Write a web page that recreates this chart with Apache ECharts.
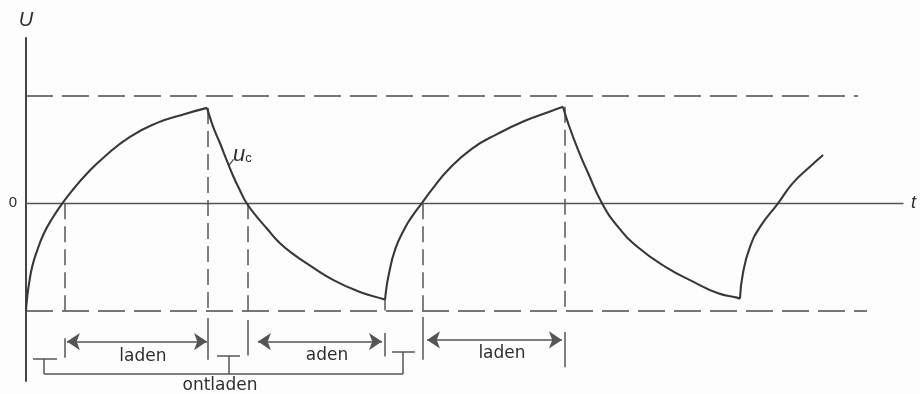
<!DOCTYPE html>
<html><head><meta charset="utf-8">
<script src="https://cdn.jsdelivr.net/npm/echarts@6/dist/echarts.min.js"></script>
<style>html,body{margin:0;padding:0;background:#fdfdfd}#c{width:920px;height:394px}</style>
</head><body><div id="c"></div>
<script>
// t in arbitrary time units, U relative to the source voltage (+1 / -1 = dashed limits)
const laden1 = [[0.0,-1.0],[0.07,-0.87],[0.17,-0.75],[0.35,-0.59],[0.63,-0.44],[1.01,-0.28],[1.48,-0.14],[2.04,0],[2.70,0.14],[3.44,0.28],[4.38,0.43],[5.84,0.62],[7.36,0.75],[8.65,0.82],[10.17,0.89]];
const ontladen1 = [[10.17,0.89],[10.52,0.71],[10.90,0.56],[11.28,0.40],[11.65,0.25],[12.02,0.12],[12.40,0],[12.96,-0.125],[13.52,-0.233],[14.27,-0.373],[15.21,-0.498],[15.77,-0.56],[17.25,-0.715],[18.76,-0.827],[20.06,-0.893],[20.17,-0.90]];
const laden2 = [[20.17,-0.90],[20.24,-0.80],[20.35,-0.69],[20.73,-0.435],[21.29,-0.23],[21.74,-0.11],[22.23,0],[22.81,0.13],[23.71,0.31],[25.06,0.51],[26.52,0.65],[28.03,0.77],[29.33,0.85],[30.17,0.90]];
const ontladen2 = [[30.17,0.90],[30.45,0.75],[31.01,0.50],[31.57,0.285],[32.36,0],[33.26,-0.22],[34.38,-0.41],[35.90,-0.59],[37.58,-0.74],[38.88,-0.84],[39.94,-0.88],[40.11,-0.89]];
const laden3 = [[40.11,-0.89],[40.28,-0.65],[40.67,-0.41],[41.24,-0.22],[42.25,0],[43.09,0.19],[44.04,0.34],[44.78,0.45]];

const limits = [[[0,1],[46.74,1]],[[0,-1],[47.25,-1]]];
const guides = [
  [[2.2,0],[2.2,-1]],
  [[10.2,0.89],[10.2,-1]],
  [[12.44,0],[12.44,-1]],
  [[22.3,0],[22.3,-1]],
  [[30.28,0.90],[30.28,-1]]
];
const ticks = [
  [[2.2,-1.26],[2.2,-1.44]],
  [[10.2,-1.07],[10.2,-1.46]],
  [[12.44,-1.09],[12.44,-1.42]],
  [[20.17,-0.90],[20.17,-1.0]],
  [[20.17,-1.21],[20.17,-1.43]],
  [[22.3,-1.06],[22.3,-1.46]],
  [[30.28,-1.20],[30.28,-1.53]]
];
const arrows = [
  [[2.3,-1.29],[10.17,-1.29]],
  [[13.03,-1.29],[20.0,-1.29]],
  [[22.53,-1.275],[30.11,-1.275]]
];
const bracket = [
  [[0.39,-1.452],[1.74,-1.452]],
  [[1.01,-1.452],[1.01,-1.592]],
  [[1.01,-1.592],[21.18,-1.592]],
  [[10.73,-1.424],[12.02,-1.424]],
  [[11.40,-1.424],[11.40,-1.592]],
  [[20.56,-1.387],[21.85,-1.387]],
  [[21.18,-1.387],[21.18,-1.592]]
];
const leader = [[[11.38,0.35],[11.66,0.41]]];
const labelTexts = ['laden','aden','laden','ontladen'];
const labelPos = [[6.57,-1.43],[16.91,-1.42],[26.74,-1.40],[10.9,-1.70]];
const zeroLabel = ['0'];
const zeroPos = [[-0.73,0]];
const ucPos = [[12.15,0.45]];

const INK = '#2f2f2f';
const curveStyle = {color:'#383838', width:2.1};
function curve(d){
  return {type:'line', data:d, smooth:0.5, showSymbol:false, symbol:'none', lineStyle:curveStyle, silent:true, z:5};
}
function segs(arr, style, extra){
  return Object.assign({type:'lines', coordinateSystem:'cartesian2d', data:arr.map(c=>({coords:c})),
    lineStyle:Object.assign({opacity:1, curveness:0}, style), symbol:'none', silent:true, clip:false}, extra||{});
}
function texts(pos, names, label){
  return {type:'scatter', clip:false, silent:true, symbolSize:0, itemStyle:{opacity:1},
    data:pos.map((p,i)=>({name:names[i], value:p})),
    label:Object.assign({show:true, position:'inside', formatter:'{b}', color:INK, opacity:1}, label)};
}
const chart = echarts.init(document.getElementById('c'), null, {renderer:'canvas'});
chart.setOption({
  backgroundColor:'#fdfdfd',
  animation:false,
  grid:{left:26, right:17, top:38, bottom:13, containLabel:false, outerBoundsMode:'none'},
  xAxis:{type:'value', min:0, max:49.27, name:'t', nameLocation:'end', nameGap:8,
    nameTextStyle:{fontStyle:'italic', fontSize:18, color:INK, fontFamily:'Liberation Sans'},
    axisLine:{onZero:true, lineStyle:{color:'#555', width:1.3}}, axisTick:{show:false}, axisLabel:{show:false}, splitLine:{show:false}},
  yAxis:{type:'value', min:-1.658, max:1.542, name:'U', nameLocation:'end', nameGap:8,
    nameTextStyle:{fontStyle:'italic', fontSize:20, color:INK, fontFamily:'Liberation Sans', align:'center'},
    axisLine:{show:true, onZero:false, lineStyle:{color:'#444', width:2}}, axisTick:{show:false}, axisLabel:{show:false}, splitLine:{show:false}},
  series:[
    curve(laden1), curve(ontladen1), curve(laden2), curve(ontladen2), curve(laden3),
    segs(limits, {color:'#4a4a4a', width:1.6, type:[27,9]}),
    segs(guides, {color:'#555', width:1.5, type:[16,7]}),
    segs(ticks, {color:'#555', width:1.5}),
    segs(arrows, {color:'#555', width:1.5}, {symbol:['arrow','arrow'], symbolSize:13}),
    segs(bracket, {color:'#555', width:1.5}),
    segs(leader, {color:'#555', width:1.3}),
    texts(labelPos, labelTexts, {fontSize:17, fontFamily:'DejaVu Sans'}),
    texts(zeroPos, zeroLabel, {fontSize:15, fontFamily:'Liberation Sans'}),
    texts(ucPos, ['uc'], {formatter:'{u|u}{c|c}',
        rich:{u:{fontSize:22, fontStyle:'italic', fontFamily:'Liberation Sans', color:INK},
              c:{fontSize:13, fontFamily:'Liberation Sans', color:INK, padding:[7,0,0,0]}}})
  ]
});
</script></body></html>
